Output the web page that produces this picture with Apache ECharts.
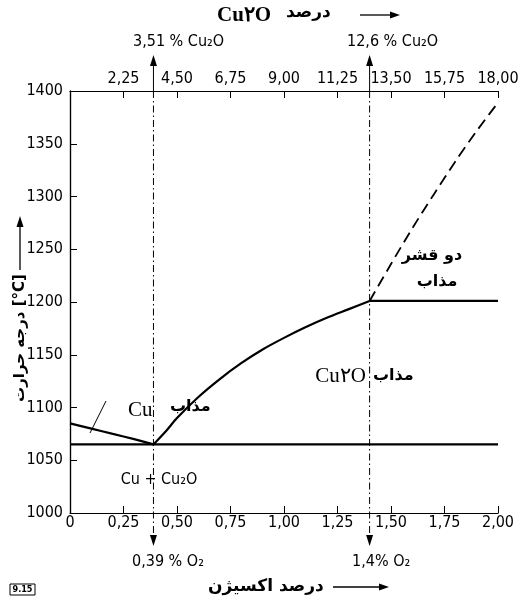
<!DOCTYPE html>
<html><head><meta charset="utf-8">
<script src="https://cdn.jsdelivr.net/npm/echarts@6/dist/echarts.min.js"></script>
<style>html,body{margin:0;padding:0;background:#fff}#c{width:525px;height:602px}</style>
</head><body><div id="c"></div>
<script>
// ---- data ----
const oxygenMin = 0, oxygenMax = 2, oxygenStep = 0.25;
const cu2oMin = 0, cu2oMax = 18, cu2oStep = 2.25;
const tempMin = 1000, tempMax = 1400, tempStep = 50;

const cuLiquidusO = [0, 0.1, 0.2, 0.3, 0.39];
const cuLiquidusT = [1085, 1080, 1075, 1070, 1065];

const oxLiquidusO = [0.39, 0.45, 0.5, 0.6, 0.7, 0.8, 0.9, 1.0, 1.1, 1.2, 1.3, 1.4];
const oxLiquidusT = [1065, 1078, 1090, 1110, 1127, 1142, 1155, 1166, 1176, 1185, 1193, 1201];

const gapO = [1.4, 1.5, 1.6, 1.7, 1.8, 1.9, 2.0];
const gapT = [1201, 1236, 1270, 1302, 1333, 1362, 1389];

const eutecticO = 0.39, eutecticT = 1065;
const monotecticO = 1.4, monotecticT = 1201;

const eutecticLabelTop = '3,51 % Cu₂O', monotecticLabelTop = '12,6 % Cu₂O';
const eutecticLabelBottom = '0,39 % O₂', monotecticLabelBottom = '1,4% O₂';

// ---- chart ----
const zip = (a, b) => a.map((v, i) => [v, b[i]]);
const comma = v => v === 0 ? '0' : v.toFixed(2).replace('.', ',');
const NARROW = "'Liberation Sans Narrow', 'DejaVu Sans Condensed', sans-serif";
const PERSIAN = "'DejaVu Sans', 'Noto Sans', sans-serif";
const SERIF = "'Liberation Serif', 'DejaVu Serif', serif";
const black = '#000';

const chart = echarts.init(document.getElementById('c'), null, {renderer: 'canvas'});

const curveStyle = {color: black, width: 2.2};
// guide lines at the eutectic / monotectic compositions, running past the frame to arrowheads
const guideSeries = (x, dashed, endT, rot) => ({
  type: 'line', clip: false, silent: true, symbol: 'none', showSymbol: true,
  itemStyle: {color: black},
  lineStyle: {color: black, width: 1, type: dashed ? [7, 3, 1.5, 3] : 'solid'},
  data: [[x, tempMax], {value: [x, endT], symbol: 'triangle', symbolSize: [7, 11], symbolRotate: rot}]
});

chart.setOption({
  animation: false,
  backgroundColor: '#fff',
  grid: {left: 70, top: 91, width: 428, height: 422, containLabel: false},
  xAxis: [{
    type: 'value', position: 'bottom', min: oxygenMin, max: oxygenMax, interval: oxygenStep,
    axisLine: {lineStyle: {color: black, width: 1.2}},
    axisTick: {inside: true, length: 7, lineStyle: {color: black}},
    axisLabel: {formatter: comma, color: black, fontFamily: NARROW, fontSize: 16, margin: 2},
    splitLine: {show: false}
  }, {
    type: 'value', position: 'top', min: cu2oMin, max: cu2oMax, interval: cu2oStep,
    axisLine: {lineStyle: {color: black, width: 1.2}},
    axisTick: {inside: true, length: 7, lineStyle: {color: black}},
    axisLabel: {formatter: v => v === 0 ? '' : comma(v), color: black, fontFamily: NARROW, fontSize: 16, margin: 4},
    splitLine: {show: false}
  }],
  yAxis: [{
    type: 'value', min: tempMin, max: tempMax, interval: tempStep,
    axisLine: {show: true, lineStyle: {color: black, width: 1.2}},
    axisTick: {inside: true, length: 7, lineStyle: {color: black}},
    axisLabel: {formatter: v => String(v), color: black, fontFamily: NARROW, fontSize: 16, margin: 7},
    splitLine: {show: false}
  }, {
    type: 'value', position: 'right', min: tempMin, max: tempMax,
    axisLine: {show: true, lineStyle: {color: black, width: 1.2}},
    axisTick: {show: false}, axisLabel: {show: false}, splitLine: {show: false}
  }],
  series: [
    guideSeries(eutecticO, true, 974, 180),
    guideSeries(eutecticO, false, 1429, 0),
    guideSeries(monotecticO, true, 974, 180),
    guideSeries(monotecticO, false, 1429, 0),
    {type: 'line', data: zip(cuLiquidusO, cuLiquidusT), showSymbol: false, lineStyle: curveStyle, smooth: 0.2},
    {type: 'line', data: zip(oxLiquidusO, oxLiquidusT), showSymbol: false, lineStyle: curveStyle, smooth: 0.3},
    {type: 'line', data: zip(gapO, gapT), showSymbol: false, smooth: 0.3,
      lineStyle: {color: black, width: 1.8, type: [11, 6]}},
    {type: 'line', data: [[oxygenMin, eutecticT], [oxygenMax, eutecticT]], showSymbol: false, lineStyle: curveStyle},
    {type: 'line', data: [[monotecticO, monotecticT], [oxygenMax, monotecticT]], showSymbol: false, lineStyle: curveStyle}
  ],
  graphic: [
    // top title
    {type: 'text', left: 217, top: 5, style: {text: 'Cu۲O', font: 'bold 21px ' + SERIF, fill: black}},
    {type: 'text', left: 286, top: 4, style: {text: 'درصد', font: 'bold 17px ' + PERSIAN, fill: black}},
    {type: 'line', shape: {x1: 360, y1: 15, x2: 392, y2: 15}, style: {stroke: black, lineWidth: 1.3}},
    {type: 'polygon', shape: {points: [[400, 15], [390, 11.5], [390, 18.5]]}, style: {fill: black}},
    // marker labels
    {type: 'text', left: 133, top: 34, style: {text: eutecticLabelTop, font: '16px ' + NARROW, fill: black}},
    {type: 'text', left: 347, top: 34, style: {text: monotecticLabelTop, font: '16px ' + NARROW, fill: black}},
    {type: 'text', left: 132, top: 554, style: {text: eutecticLabelBottom, font: '16px ' + NARROW, fill: black}},
    {type: 'text', left: 352, top: 554, style: {text: monotecticLabelBottom, font: '16px ' + NARROW, fill: black}},
    // bottom title
    {type: 'text', left: 208, top: 578, style: {text: 'درصد اکسیژن', font: 'bold 17px ' + PERSIAN, fill: black}},
    {type: 'line', shape: {x1: 333, y1: 587, x2: 380, y2: 587}, style: {stroke: black, lineWidth: 1.3}},
    {type: 'polygon', shape: {points: [[389, 587], [379, 583.5], [379, 590.5]]}, style: {fill: black}},
    // y title
    {type: 'text', x: 20, y: 338, rotation: Math.PI / 2,
      style: {text: 'درجه حرارت [°C]', font: 'bold 15px ' + PERSIAN, fill: black, align: 'center', verticalAlign: 'middle'}},
    {type: 'line', shape: {x1: 20, y1: 270, x2: 20, y2: 226}, style: {stroke: black, lineWidth: 1.3}},
    {type: 'polygon', shape: {points: [[20, 216], [16.5, 227], [23.5, 227]]}, style: {fill: black}},
    // region labels
    {type: 'text', left: 128, top: 400, style: {text: 'Cu', font: '21px ' + SERIF, fill: black}},
    {type: 'text', left: 170, top: 399, style: {text: 'مذاب', font: 'bold 16px ' + PERSIAN, fill: black}},
    {type: 'line', shape: {x1: 106, y1: 401, x2: 90, y2: 433}, style: {stroke: black, lineWidth: 1}},
    {type: 'text', x: 159, y: 480, style: {text: 'Cu + Cu₂O', font: '16px ' + NARROW, fill: black, align: 'center', verticalAlign: 'middle'}},
    {type: 'text', x: 366, y: 376, style: {text: 'Cu۲O', font: '21px ' + SERIF, fill: black, align: 'right', verticalAlign: 'middle'}},
    {type: 'text', x: 373, y: 376, style: {text: 'مذاب', font: 'bold 16px ' + PERSIAN, fill: black, align: 'left', verticalAlign: 'middle'}},
    {type: 'text', x: 432, y: 256, style: {text: 'دو قشر', font: 'bold 16px ' + PERSIAN, fill: black, align: 'center', verticalAlign: 'middle'}},
    {type: 'text', x: 437, y: 282, style: {text: 'مذاب', font: 'bold 16px ' + PERSIAN, fill: black, align: 'center', verticalAlign: 'middle'}},
    // figure number
    {type: 'rect', shape: {x: 10, y: 584, width: 25, height: 11}, style: {fill: '#fff', stroke: black, lineWidth: 1}},
    {type: 'text', x: 22.5, y: 589.5, style: {text: '9.15', font: 'bold 9px ' + NARROW, fill: black, align: 'center', verticalAlign: 'middle'}}
  ]
});
</script>
</body></html>
